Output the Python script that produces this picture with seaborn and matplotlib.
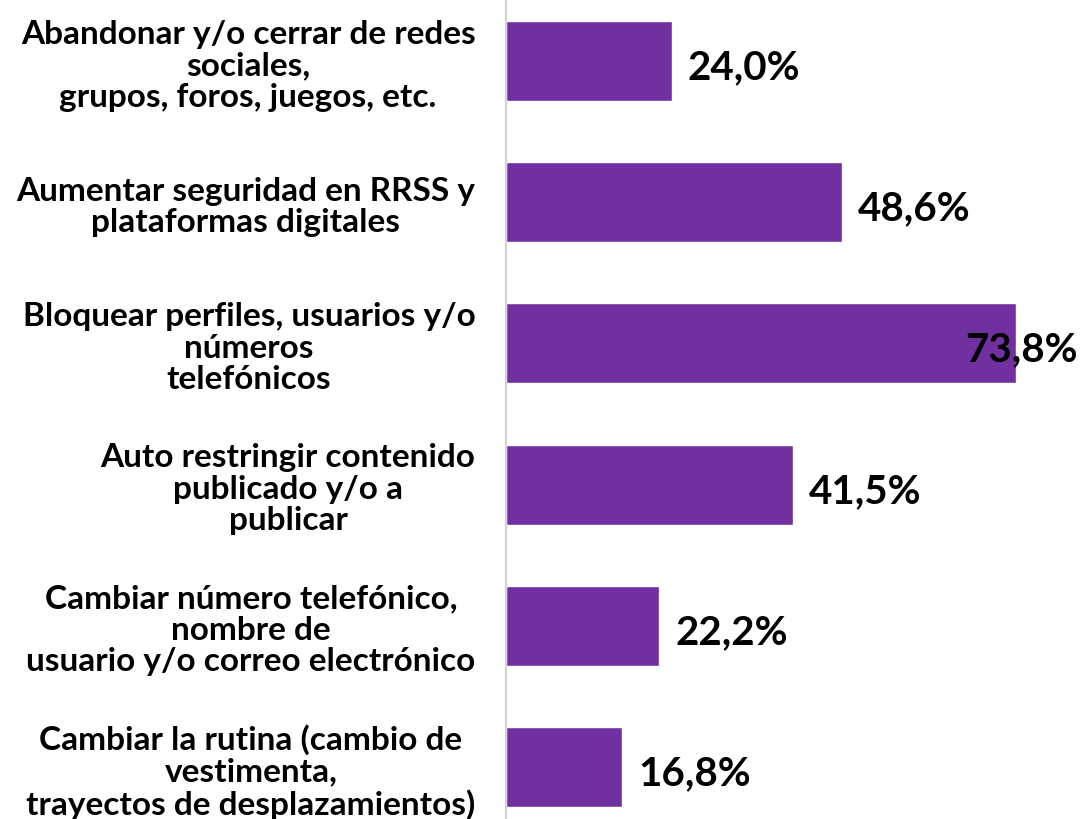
import matplotlib
matplotlib.use("Agg")
import matplotlib.pyplot as plt
import seaborn as sns
import pandas as pd

# Data
acciones = [
    "Abandonar y/o cerrar de redes\nsociales,\ngrupos, foros, juegos, etc.",
    "Aumentar seguridad en RRSS y\nplataformas digitales",
    "Bloquear perfiles, usuarios y/o\nnúmeros\ntelefónicos",
    "Auto restringir contenido\npublicado y/o a\npublicar",
    "Cambiar número telefónico,\nnombre de\nusuario y/o correo electrónico",
    "Cambiar la rutina (cambio de\nvestimenta,\ntrayectos de desplazamientos)",
]
porcentajes = [24.0, 48.6, 73.8, 41.5, 22.2, 16.8]
etiquetas = ["24,0%", "48,6%", "73,8%", "41,5%", "22,2%", "16,8%"]

df = pd.DataFrame({"accion": acciones, "pct": porcentajes})

sns.set_theme(style="white")
plt.rcParams["font.family"] = ["Lato", "DejaVu Sans"]

fig = plt.figure(figsize=(10.86, 8.2), dpi=100)
ax = fig.add_axes([506 / 1086, 0, 580 / 1086, 1])
sns.barplot(data=df, x="pct", y="accion", color="#7030A0", width=0.567,
            saturation=1, ax=ax, zorder=2)

ax.set_xlim(0, 84)
ax.set_ylim(5.368, -0.439)
ax.set_xlabel("")
ax.set_ylabel("")
ax.set_xticks([])
ax.tick_params(axis="y", length=0, pad=22)
for lbl in ax.get_yticklabels():
    lbl.set_fontsize(24)
    lbl.set_fontweight("bold")
    lbl.set_color("black")
    lbl.set_multialignment("center")
    lbl.set_linespacing(1.1)

for s in ["top", "right", "bottom"]:
    ax.spines[s].set_visible(False)
ax.spines["left"].set_color("#d4d4d4")
ax.spines["left"].set_linewidth(1.6)

# value labels; the longest bar gets its label pulled inside the frame
for i, (v, t) in enumerate(zip(porcentajes, etiquetas)):
    if v + 18 > 84:
        ax.text(82.8, i + 0.04, t, ha="right", va="center", fontsize=29,
                fontweight="bold", color="black", zorder=3)
    else:
        ax.text(v + 2.3, i + 0.04, t, ha="left", va="center", fontsize=29,
                fontweight="bold", color="black", zorder=3)

fig.savefig("out.png", dpi=100)
